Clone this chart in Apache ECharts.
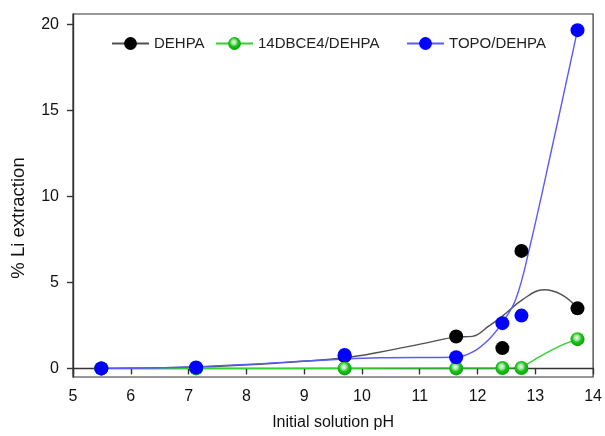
<!DOCTYPE html>
<html>
<head>
<meta charset="utf-8">
<script src="https://cdn.jsdelivr.net/npm/echarts@6/dist/echarts.min.js"></script>
<style>
  html, body { margin: 0; padding: 0; background: #fff; }
  #chart { width: 605px; height: 436px; }
</style>
</head>
<body>
<div id="chart"></div>
<script>
// measured points
var ph = [5.49, 7.13, 9.70, 11.63, 12.43, 12.76, 13.73];
var dehpa = [0, 0.03, 0.72, 1.85, 1.18, 6.83, 3.49];
var dbce = [0, 0, 0, 0, 0.02, 0.02, 1.70];
var topo = [0, 0.05, 0.78, 0.65, 2.63, 3.07, 19.66];

// fitted curves
var dehpaFitX = [5.49, 7.13, 8.5, 9.7, 10.3, 11.16, 11.62, 11.91, 12.2, 12.43, 12.78, 13.15, 13.46, 13.73];
var dehpaFitY = [0, 0.08, 0.3, 0.62, 0.94, 1.51, 1.82, 1.86, 2.47, 3.04, 4.0, 4.57, 4.28, 3.52];
var dbceFitX = [5.49, 7.13, 9.7, 11.63, 12.43, 12.6, 12.78, 13.06, 13.41, 13.73];
var dbceFitY = [0, 0, 0.01, 0.02, 0.02, 0.03, 0.13, 0.65, 1.28, 1.7];
var topoFitX = [5.49, 7.13, 9.7, 10.3, 11.62, 11.91, 12.2, 12.43, 12.66, 12.9, 13.3, 13.73];
var topoFitY = [0, 0.1, 0.55, 0.62, 0.65, 0.94, 1.7, 2.66, 4.0, 7.0, 13.0, 19.66];

var yTicks = [0, 5, 10, 15, 20];

function pairs(xs, ys) {
    return xs.map(function (x, i) { return [x, ys[i]]; });
}

var greenBall = {
    type: 'radial', x: 0.45, y: 0.4, r: 0.6,
    colorStops: [
        { offset: 0, color: '#f2fff2' },
        { offset: 0.3, color: '#9be89b' },
        { offset: 0.55, color: '#22c022' },
        { offset: 1, color: '#00a400' }
    ]
};

var lineSeries = function (name, xs, ys, lineColor, markColor) {
    return {
        name: name,
        type: 'line',
        data: pairs(xs, ys),
        smooth: 0.4,
        showSymbol: false,
        symbol: 'circle',
        symbolSize: 13,
        silent: true,
        z: 2,
        lineStyle: { color: lineColor, width: 1.4 },
        itemStyle: { color: markColor }
    };
};

var pointSeries = function (name, ys, markColor, z) {
    return {
        name: name,
        type: 'scatter',
        data: pairs(ph, ys),
        symbol: 'circle',
        symbolSize: 14,
        z: z,
        itemStyle: { color: markColor, opacity: 1 }
    };
};

var legendText = { fontSize: 15, color: '#222', fontFamily: 'Liberation Sans, Arial, sans-serif' };
function legendAt(name, left) {
    return {
        data: [name],
        left: left,
        top: 31,
        itemWidth: 37,
        itemHeight: 16,
        itemGap: 8,
        textStyle: legendText,
        selectedMode: false
    };
}

var myChart = echarts.init(document.getElementById('chart'));
myChart.setOption({
    animation: false,
    textStyle: { fontFamily: 'Liberation Sans, Arial, sans-serif' },
    grid: {
        left: 73, right: 11, top: 14, bottom: 54,
        show: true, borderColor: '#333', borderWidth: 1.2
    },
    legend: [
        legendAt('DEHPA', 106),
        legendAt('14DBCE4/DEHPA', 210),
        legendAt('TOPO/DEHPA', 401)
    ],
    graphic: [{
        type: 'text',
        x: 18.5,
        y: 218,
        rotation: Math.PI / 2,
        style: {
            text: '% Li extraction',
            fontSize: 18.5,
            fill: '#111',
            fontFamily: 'Liberation Sans, Arial, sans-serif',
            align: 'center',
            verticalAlign: 'middle'
        }
    }],
    xAxis: {
        type: 'value',
        min: 5, max: 14, interval: 1,
        name: 'Initial solution pH',
        nameLocation: 'middle',
        nameGap: 38,
        nameTextStyle: { fontSize: 16, color: '#111' },
        splitLine: { show: false },
        axisLine: { lineStyle: { color: '#333', width: 1.4 } },
        axisTick: { inside: false, length: 6, lineStyle: { color: '#333', width: 1.4 } },
        axisLabel: { fontSize: 16, color: '#111', margin: 12 }
    },
    yAxis: {
        type: 'value',
        min: -0.5, max: 20.6,
        splitLine: { show: false },
        axisLine: { show: true, lineStyle: { color: '#333', width: 1.4 } },
        axisTick: { show: true, length: 6, customValues: yTicks, lineStyle: { color: '#333', width: 1.4 } },
        axisLabel: { fontSize: 16, color: '#111', margin: 14, customValues: yTicks }
    },
    series: [
        lineSeries('DEHPA', dehpaFitX, dehpaFitY, '#505050', '#000'),
        lineSeries('14DBCE4/DEHPA', dbceFitX, dbceFitY, '#33d133', greenBall),
        lineSeries('TOPO/DEHPA', topoFitX, topoFitY, '#5a5aff', '#0000ff'),
        pointSeries('DEHPA', dehpa, '#000', 5),
        pointSeries('14DBCE4/DEHPA', dbce, greenBall, 6),
        pointSeries('TOPO/DEHPA', topo, '#0000ff', 7)
    ]
});
</script>
</body>
</html>
